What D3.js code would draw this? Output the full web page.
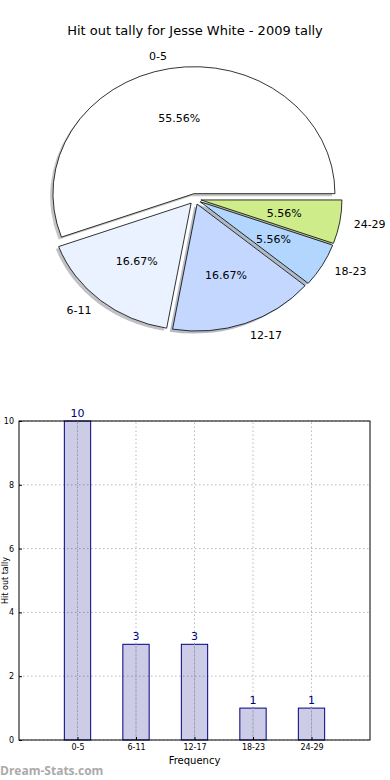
<!DOCTYPE html>
<html>
<head>
<meta charset="utf-8">
<script src="https://cdn.jsdelivr.net/npm/d3@7"></script>
<style>
  body { margin: 0; background: #fff; }
  svg { display: block; font-family: "DejaVu Sans", sans-serif; }
</style>
</head>
<body>
<div id="chart"></div>
<script>
// data
const categories = ["0-5", "6-11", "12-17", "18-23", "24-29"];
const counts = [10, 3, 3, 1, 1];
const sliceColors = ["#ffffff", "#eaf1ff", "#c4d8ff", "#b3d6ff", "#cfec8a"];
const yTicks = [0, 2, 4, 6, 8, 10];

const W = 390, H = 780;
const svg = d3.select("#chart").append("svg")
  .attr("width", W)
  .attr("height", H);

// title
svg.append("text")
  .attr("x", 195)
  .attr("y", 35)
  .attr("text-anchor", "middle")
  .style("font-size", "13px")
  .text("Hit out tally for Jesse White - 2009 tally");

// ---- pie (elliptical, like a non-equal aspect matplotlib pie) ----
const cx = 195, cy = 199, rx = 141, ry = 127, k = ry / rx;
const explode = 6;
const total = d3.sum(counts);

// matplotlib starts at 3 o'clock, counterclockwise
const pie = d3.pie().sort(null).startAngle(Math.PI / 2).endAngle(Math.PI / 2 - 2 * Math.PI);
const arcs = pie(counts);
const arc = d3.arc().innerRadius(0).outerRadius(rx);

arcs.forEach(d => {
  const mid = (d.startAngle + d.endAngle) / 2;
  d.dx = Math.sin(mid);
  d.dy = -Math.cos(mid);
  d.ox = cx + explode * d.dx;
  d.oy = cy + explode * d.dy * k;
});

const pieG = svg.append("g");

// shadows first, underneath all wedges
pieG.selectAll(".shadow")
  .data(arcs)
  .join("path")
    .attr("class", "shadow")
    .attr("transform", d => "translate(" + (d.ox - 2.8) + "," + (d.oy + 2.5) + ") scale(1," + k + ")")
    .attr("d", arc)
    .attr("fill", (d, i) => d3.rgb(sliceColors[i]).darker(1.7))
    .attr("fill-opacity", 0.5);

pieG.selectAll(".wedge")
  .data(arcs)
  .join("path")
    .attr("class", "wedge")
    .attr("transform", d => "translate(" + d.ox + "," + d.oy + ") scale(1," + k + ")")
    .attr("d", arc)
    .attr("fill", (d, i) => sliceColors[i])
    .attr("stroke", "#000")
    .attr("stroke-width", 0.8)
    .attr("vector-effect", "non-scaling-stroke");

// category labels
pieG.selectAll(".lbl")
  .data(arcs)
  .join("text")
    .attr("class", "lbl")
    .attr("x", d => d.ox + 1.1 * rx * d.dx)
    .attr("y", d => d.oy + 1.1 * ry * d.dy)
    .attr("text-anchor", d => d.dx > 0 ? "start" : "end")
    .attr("dominant-baseline", "central")
    .style("font-size", "11px")
    .text((d, i) => categories[i]);

// percentages
pieG.selectAll(".pct")
  .data(arcs)
  .join("text")
    .attr("class", "pct")
    .attr("x", d => d.ox + 0.6 * rx * d.dx)
    .attr("y", d => d.oy + 0.6 * ry * d.dy)
    .attr("text-anchor", "middle")
    .attr("dominant-baseline", "central")
    .style("font-size", "11px")
    .text(d => (d.value / total * 100).toFixed(2) + "%");

// ---- bar chart ----
const x = d3.scaleLinear().domain([-1, 5]).range([19, 370]);
const y = d3.scaleLinear().domain([0, 10]).range([740, 421]);
const barW = x(0.45) - x(0);

const bar = svg.append("g");

// grid
bar.selectAll(".hgrid")
  .data(yTicks)
  .join("line")
    .attr("x1", x(-1)).attr("x2", x(5))
    .attr("y1", d => y(d)).attr("y2", d => y(d))
    .attr("stroke", "#bbb")
    .attr("stroke-dasharray", "1.5,2.5");

bar.selectAll(".vgrid")
  .data(categories)
  .join("line")
    .attr("x1", (d, i) => x(i)).attr("x2", (d, i) => x(i))
    .attr("y1", y(0)).attr("y2", y(10))
    .attr("stroke", "#bbb")
    .attr("stroke-dasharray", "1.5,2.5");

// bars
bar.selectAll(".bar")
  .data(counts)
  .join("rect")
    .attr("x", (d, i) => x(i) - barW / 2)
    .attr("y", d => y(d))
    .attr("width", barW)
    .attr("height", d => y(0) - y(d))
    .attr("fill", "#000080")
    .attr("fill-opacity", 0.2)
    .attr("stroke", "#000080")
    .attr("stroke-width", 1);

// vertical grid again over the bars (matplotlib grid sits on top)
bar.selectAll(".vgrid2")
  .data(counts)
  .join("line")
    .attr("x1", (d, i) => x(i)).attr("x2", (d, i) => x(i))
    .attr("y1", d => y(d))
    .attr("y2", y(0))
    .attr("stroke", "#aaa")
    .attr("stroke-dasharray", "1.5,2.5");

// value labels
bar.selectAll(".val")
  .data(counts)
  .join("text")
    .attr("x", (d, i) => x(i))
    .attr("y", d => y(d) - 4)
    .attr("text-anchor", "middle")
    .attr("fill", "#000080")
    .style("font-size", "11px")
    .text(d => d);

// axes
const xAxis = d3.axisBottom(x)
  .tickValues(d3.range(categories.length))
  .tickFormat(i => categories[i])
  .tickSize(-3);
const yAxis = d3.axisLeft(y)
  .tickValues(yTicks)
  .tickSize(-3);

const gx = bar.append("g")
  .attr("transform", "translate(0," + y(0) + ")")
  .call(xAxis);
gx.select(".domain").remove();
gx.selectAll("text").attr("dy", "0.9em").style("font-size", "8px").style("font-family", "DejaVu Sans, sans-serif");

const gy = bar.append("g")
  .attr("transform", "translate(" + x(-1) + ",0)")
  .call(yAxis);
gy.select(".domain").remove();
gy.selectAll("text").attr("x", -5).style("font-size", "8px").style("font-family", "DejaVu Sans, sans-serif");

// frame
bar.append("rect")
  .attr("x", x(-1)).attr("y", y(10))
  .attr("width", x(5) - x(-1)).attr("height", y(0) - y(10))
  .attr("fill", "none")
  .attr("stroke", "#000")
  .attr("stroke-width", 1);

// axis labels
bar.append("text")
  .attr("x", (x(-1) + x(5)) / 2)
  .attr("y", 764)
  .attr("text-anchor", "middle")
  .style("font-size", "10px")
  .text("Frequency");

bar.append("text")
  .attr("transform", "translate(8," + y(5) + ") rotate(-90)")
  .attr("text-anchor", "middle")
  .style("font-size", "8px")
  .text("Hit out tally");

// watermark
svg.append("text")
  .attr("x", 0)
  .attr("y", 775)
  .attr("fill", "#aaa")
  .style("font-size", "12px")
  .style("font-weight", "bold")
  .style("font-family", "\"Open Sans\", sans-serif")
  .text("Dream-Stats.com");
</script>
</body>
</html>
